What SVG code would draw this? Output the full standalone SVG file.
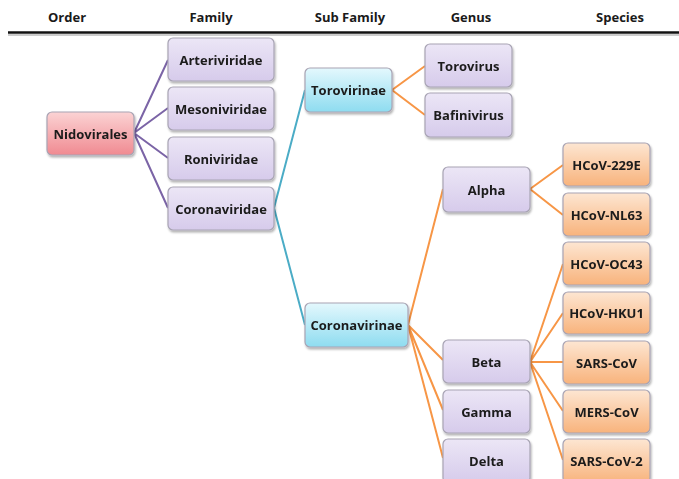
<svg xmlns="http://www.w3.org/2000/svg" width="679" height="479" viewBox="0 0 679 479">
<style>
text{font-family:"Open Sans","Liberation Sans",Arial,sans-serif;font-weight:bold;fill:#1a1a1a}
.hd{font-size:13px}
.lb{font-size:13px;text-anchor:middle;dominant-baseline:central}
.box{stroke:#a8a4b4;stroke-width:1.2}
.pu{fill:url(#gPu)}
.pk{fill:url(#gPk)}
.cy{fill:url(#gCy)}
.or{fill:url(#gOr)}
.cP{stroke:#7b64a6;stroke-width:2;fill:none}
.cC{stroke:#4bacc6;stroke-width:2;fill:none}
.cO{stroke:#f79646;stroke-width:2;fill:none}
</style>
<defs>
<linearGradient id="gPu" x1="0" y1="0" x2="0" y2="1"><stop offset="0" stop-color="#ece6f6"/><stop offset="1" stop-color="#d6cbeb"/></linearGradient>
<linearGradient id="gPk" x1="0" y1="0" x2="0" y2="1"><stop offset="0" stop-color="#fbd3d4"/><stop offset="1" stop-color="#f08a91"/></linearGradient>
<linearGradient id="gCy" x1="0" y1="0" x2="0" y2="1"><stop offset="0" stop-color="#e4f8fd"/><stop offset="1" stop-color="#8edcf0"/></linearGradient>
<linearGradient id="gOr" x1="0" y1="0" x2="0" y2="1"><stop offset="0" stop-color="#fde6d2"/><stop offset="1" stop-color="#f8b37c"/></linearGradient>
<filter id="sh" x="-10%" y="-10%" width="130%" height="140%"><feDropShadow dx="1" dy="2" stdDeviation="1.2" flood-color="#000" flood-opacity="0.3"/></filter>
</defs>
<rect width="679" height="479" fill="#fff"/>
<g id="header">
<text class="hd" x="67" y="22" text-anchor="middle">Order</text>
<text class="hd" x="211" y="22" text-anchor="middle">Family</text>
<text class="hd" x="350" y="22" text-anchor="middle">Sub Family</text>
<text class="hd" x="471" y="22" text-anchor="middle">Genus</text>
<text class="hd" x="620" y="22" text-anchor="middle">Species</text>
<line x1="8" y1="32.5" x2="679" y2="32.5" stroke="#111" stroke-width="2.5"/>
<line x1="8" y1="35" x2="679" y2="35" stroke="#999" stroke-width="1"/>
</g>
<g id="connectors">
<path class="cP" d="M134 133L168 60M134 133L168 108M134 133L168 158M134 133L168 208"/>
<path class="cC" d="M274 208L305 90M274 208L305 325"/>
<path class="cO" d="M392 90L425 66M392 90L425 115"/>
<path class="cO" d="M408 325L443 189M408 325L443 360M408 325L443 410M408 325L443 458"/>
<path class="cO" d="M530 189L563 165M530 189L563 215"/>
<path class="cO" d="M530 362L563 264M530 362L563 313M530 362L563 362M530 362L563 411M530 362L563 460"/>
</g>
<g id="nidovirales" filter="url(#sh)"><rect class="box pk" x="47" y="112" width="87" height="43" rx="5"/><text class="lb" x="90.5" y="133.5">Nidovirales</text></g>
<g id="arteriviridae" filter="url(#sh)"><rect class="box pu" x="168" y="38" width="106" height="43" rx="5"/><text class="lb" x="221" y="59.5">Arteriviridae</text></g>
<g id="mesoniviridae" filter="url(#sh)"><rect class="box pu" x="168" y="87" width="106" height="43" rx="5"/><text class="lb" x="221" y="108.5">Mesoniviridae</text></g>
<g id="roniviridae" filter="url(#sh)"><rect class="box pu" x="168" y="137" width="106" height="43" rx="5"/><text class="lb" x="221" y="158.5">Roniviridae</text></g>
<g id="coronaviridae" filter="url(#sh)"><rect class="box pu" x="168" y="187" width="106" height="43" rx="5"/><text class="lb" x="221" y="208.5">Coronaviridae</text></g>
<g id="torovirinae" filter="url(#sh)"><rect class="box cy" x="305" y="68" width="87" height="44" rx="5"/><text class="lb" x="348.5" y="90">Torovirinae</text></g>
<g id="coronavirinae" filter="url(#sh)"><rect class="box cy" x="305" y="303" width="103" height="44" rx="5"/><text class="lb" x="356.5" y="325">Coronavirinae</text></g>
<g id="torovirus" filter="url(#sh)"><rect class="box pu" x="425" y="44" width="87" height="43" rx="5"/><text class="lb" x="468.5" y="65.5">Torovirus</text></g>
<g id="bafinivirus" filter="url(#sh)"><rect class="box pu" x="425" y="93" width="87" height="44" rx="5"/><text class="lb" x="468.5" y="115">Bafinivirus</text></g>
<g id="alpha" filter="url(#sh)"><rect class="box pu" x="443" y="167" width="87" height="45" rx="5"/><text class="lb" x="486.5" y="189.5">Alpha</text></g>
<g id="beta" filter="url(#sh)"><rect class="box pu" x="443" y="340" width="87" height="43" rx="5"/><text class="lb" x="486.5" y="362">Beta</text></g>
<g id="gamma" filter="url(#sh)"><rect class="box pu" x="443" y="390" width="87" height="43" rx="5"/><text class="lb" x="486.5" y="411.5">Gamma</text></g>
<g id="delta" filter="url(#sh)"><rect class="box pu" x="443" y="439" width="87" height="44" rx="5"/><text class="lb" x="486.5" y="461">Delta</text></g>
<g id="hcov-229e" filter="url(#sh)"><rect class="box or" x="563" y="143" width="87" height="43" rx="5"/><text class="lb" x="606.5" y="164.5">HCoV-229E</text></g>
<g id="hcov-nl63" filter="url(#sh)"><rect class="box or" x="563" y="193" width="87" height="43" rx="5"/><text class="lb" x="606.5" y="214.5">HCoV-NL63</text></g>
<g id="hcov-oc43" filter="url(#sh)"><rect class="box or" x="563" y="242" width="87" height="43" rx="5"/><text class="lb" x="606.5" y="263.5">HCoV-OC43</text></g>
<g id="hcov-hku1" filter="url(#sh)"><rect class="box or" x="563" y="292" width="87" height="42" rx="5"/><text class="lb" x="606.5" y="313">HCoV-HKU1</text></g>
<g id="sars-cov" filter="url(#sh)"><rect class="box or" x="563" y="341" width="87" height="43" rx="5"/><text class="lb" x="606.5" y="362.5">SARS-CoV</text></g>
<g id="mers-cov" filter="url(#sh)"><rect class="box or" x="563" y="390" width="87" height="43" rx="5"/><text class="lb" x="606.5" y="411.5">MERS-CoV</text></g>
<g id="sars-cov-2" filter="url(#sh)"><rect class="box or" x="563" y="439" width="87" height="44" rx="5"/><text class="lb" x="606.5" y="461">SARS-CoV-2</text></g>
</svg>
